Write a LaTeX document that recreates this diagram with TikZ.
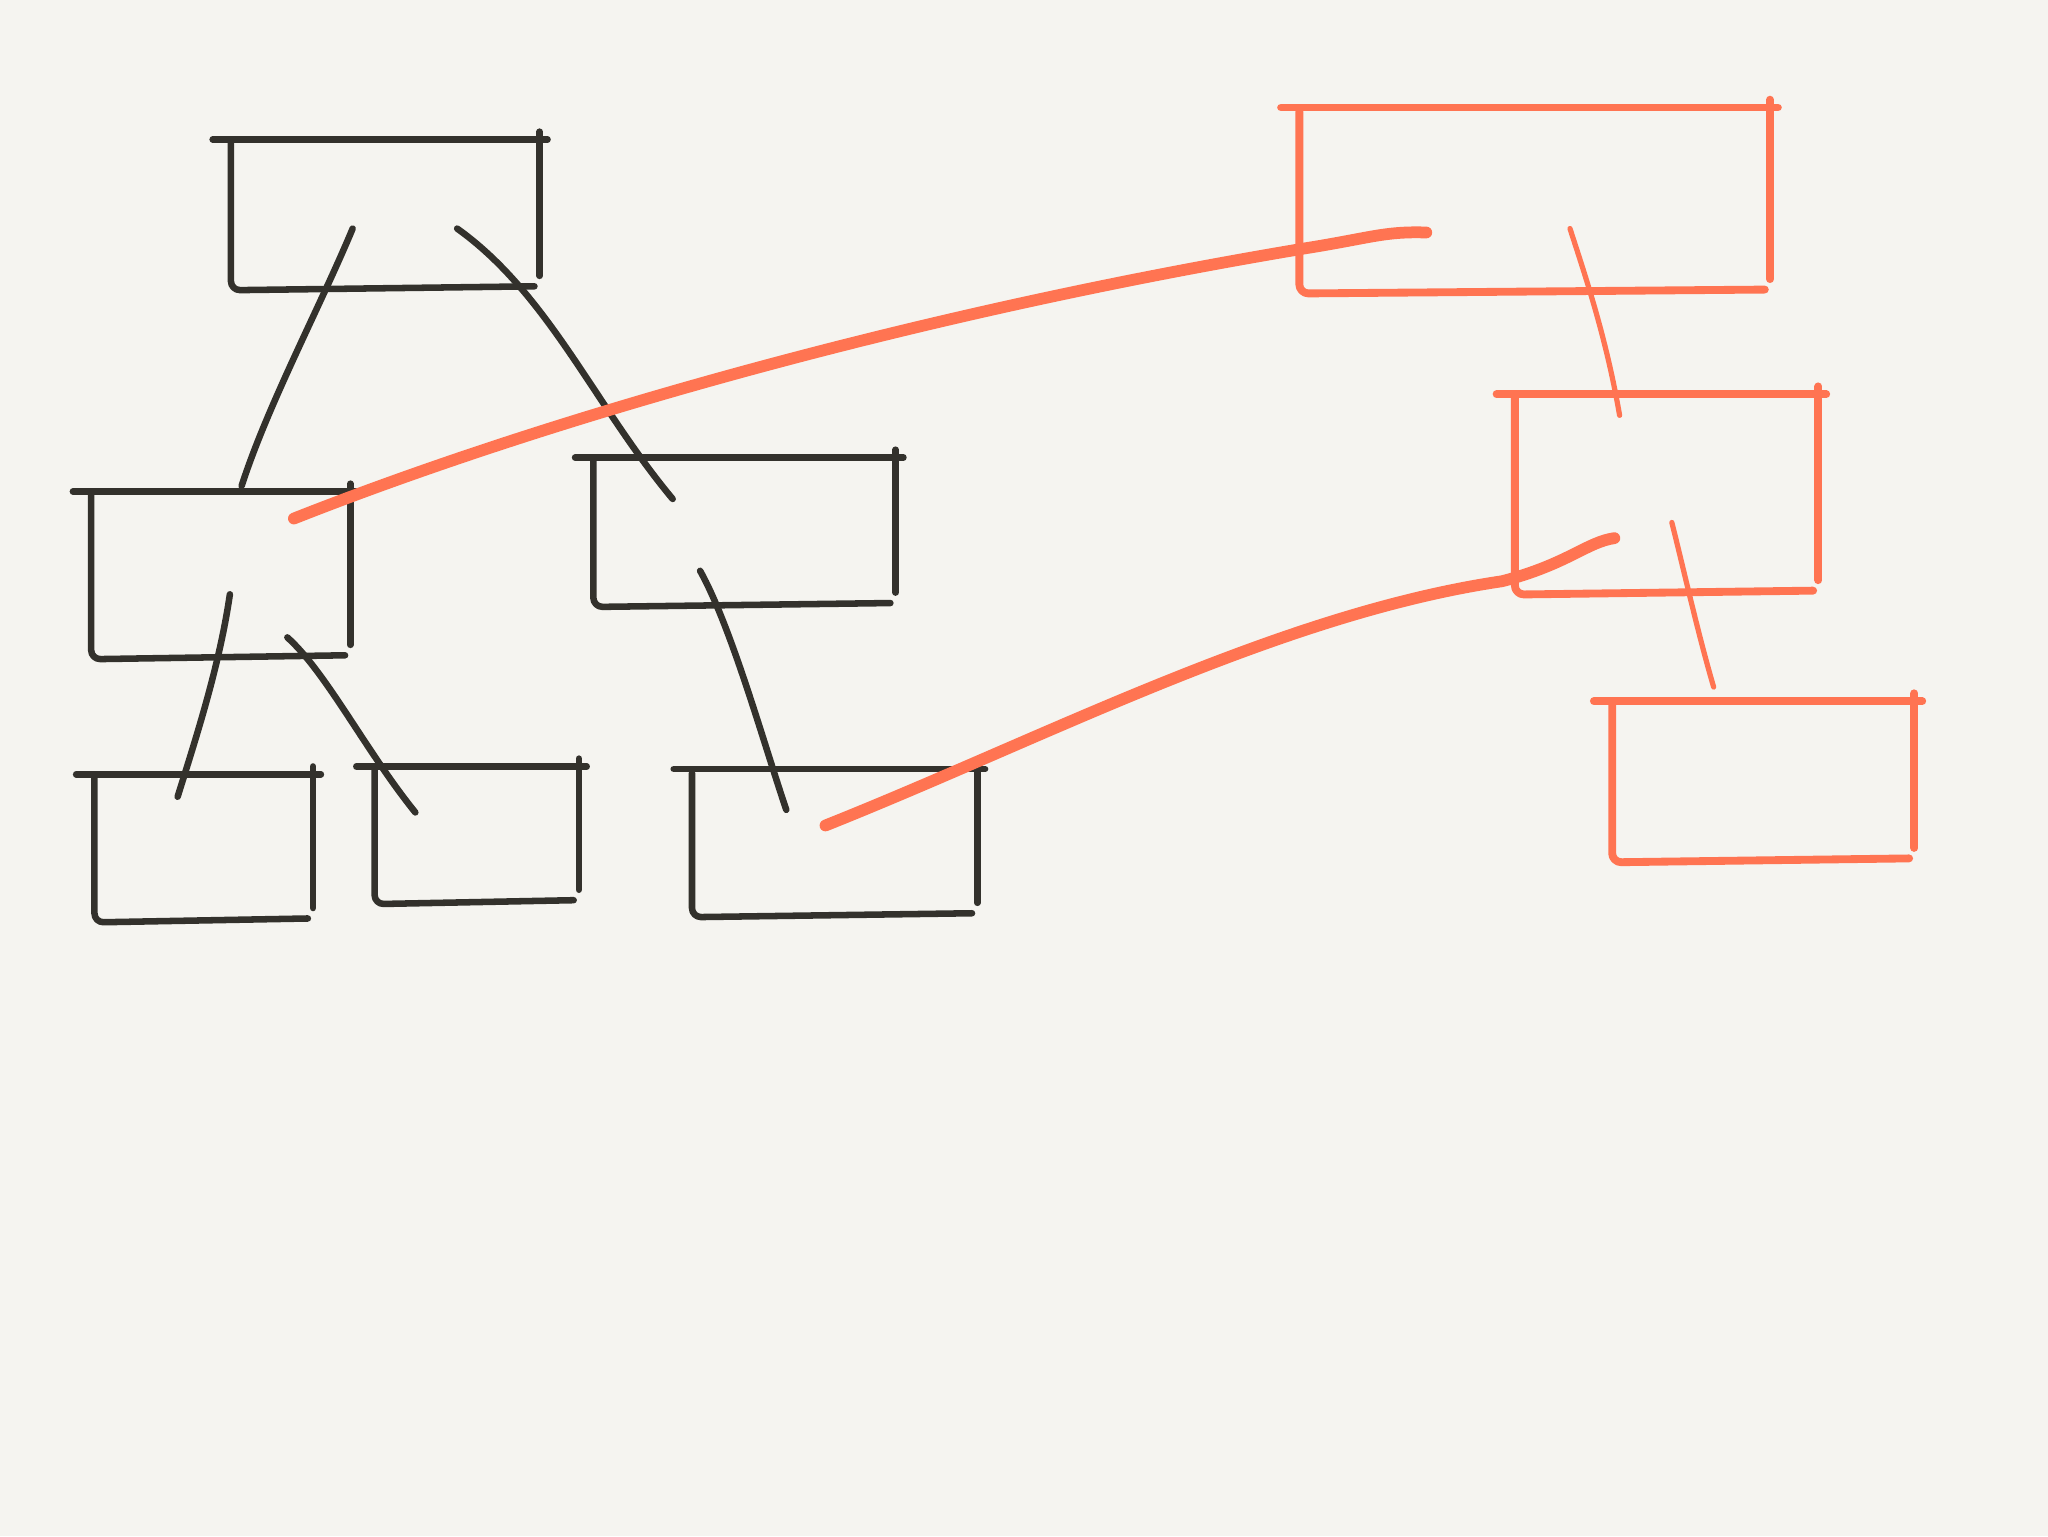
\documentclass[tikz,border=0pt]{standalone}
\usepackage{tikz}
\usetikzlibrary{calc}
\definecolor{ink}{HTML}{33312C}
\definecolor{coral}{HTML}{FF7452}
\definecolor{paper}{HTML}{F5F4F0}
\tikzset{
  boxnode/.style={draw=none,inner sep=0pt,rectangle},
  sketch/.style={line width=5pt,line cap=round,line join=round},
  inkline/.style={sketch,draw=ink},
  coralline/.style={sketch,draw=coral,line width=6pt},
  longline/.style={sketch,draw=coral,line width=9pt}
}
% hand drawn box: top, left+bottom in one stroke, right
\newcommand{\sketchbox}[2]{%
  \draw[#1] ($(#2.north west)+(-14,-1)$) -- ($(#2.north east)+(6,-1)$);
  \draw[#1,rounded corners=7pt] ($(#2.north west)+(0,2)$) -- (#2.south west) -- ($(#2.south east)+(-4,-3)$);
  \draw[#1] ($(#2.north east)+(0,-7)$) -- ($(#2.south east)+(0,-11)$);
}
\begin{document}
\begin{tikzpicture}[x=1pt,y=-1pt]
        %Paper
        \fill[paper] (0,0) rectangle (1568,1176);
        \useasboundingbox (0,0) rectangle (1568,1176);
        %Black tree
        \node[boxnode,minimum width=236pt,minimum height=114pt] (root) at (295,165) {};
        \node[boxnode,minimum width=198pt,minimum height=127pt] (left) at (169,441) {};
        \node[boxnode,minimum width=231pt,minimum height=113pt] (right) at (570,408) {};
        \node[boxnode,minimum width=167pt,minimum height=112pt] (leftleft) at (156,650) {};
        \node[boxnode,minimum width=156pt,minimum height=104pt] (leftright) at (365,640) {};
        \node[boxnode,minimum width=218pt,minimum height=112pt] (rightchild) at (639,646) {};
        %Orange tree
        \node[boxnode,minimum width=360pt,minimum height=141pt] (oroot) at (1175,154) {};
        \node[boxnode,minimum width=232pt,minimum height=152pt] (omid) at (1276,379) {};
        \node[boxnode,minimum width=231pt,minimum height=122pt] (olow) at (1350,599) {};
        %Edge ends
        \coordinate (e1) at (270,175);
        \coordinate (e2) at (185,372);
        \coordinate (e3) at (350,175);
        \coordinate (e4) at (515,382);
        \coordinate (e5) at (176,455);
        \coordinate (e6) at (136,610);
        \coordinate (e7) at (220,488);
        \coordinate (e8) at (318,622);
        \coordinate (e9) at (536,437);
        \coordinate (e10) at (602,620);
        \coordinate (o1) at (1202,175);
        \coordinate (o2) at (1240,318);
        \coordinate (o3) at (1280,400);
        \coordinate (o4) at (1312,526);
        \coordinate (l1) at (225,397);
        \coordinate (l2) at (1092,178);
        \coordinate (l3) at (632,632);
        \coordinate (l4) at (1236,412);
        %Draw boxes
        \sketchbox{inkline}{root}
        \sketchbox{inkline}{left}
        \sketchbox{inkline}{right}
        \sketchbox{inkline}{leftleft}
        \sketchbox{inkline}{leftright}
        \sketchbox{inkline}{rightchild}
        \sketchbox{coralline}{oroot}
        \sketchbox{coralline}{omid}
        \sketchbox{coralline}{olow}
        %Draw edges
        \draw[inkline] (e1) .. controls (245,235) and (205,310) .. (e2);
        \draw[inkline] (e3) .. controls (420,225) and (455,310) .. (e4);
        \draw[inkline] (e5) .. controls (168,510) and (150,565) .. (e6);
        \draw[inkline] (e7) .. controls (250,515) and (280,575) .. (e8);
        \draw[inkline] (e9) .. controls (560,480) and (585,570) .. (e10);
        \draw[coralline,line width=4pt] (o1) .. controls (1215,215) and (1230,260) .. (o2);
        \draw[coralline,line width=4pt] (o3) .. controls (1290,440) and (1300,485) .. (o4);
        %Long links
        \draw[longline] (l1) .. controls (420,320) and (700,240) .. (1000,190)
          .. controls (1050,182) and (1060,177) .. (l2);
        \draw[longline] (l3) .. controls (800,565) and (980,470) .. (1150,445)
          .. controls (1200,432) and (1215,415) .. (l4);
\end{tikzpicture}
\end{document}
